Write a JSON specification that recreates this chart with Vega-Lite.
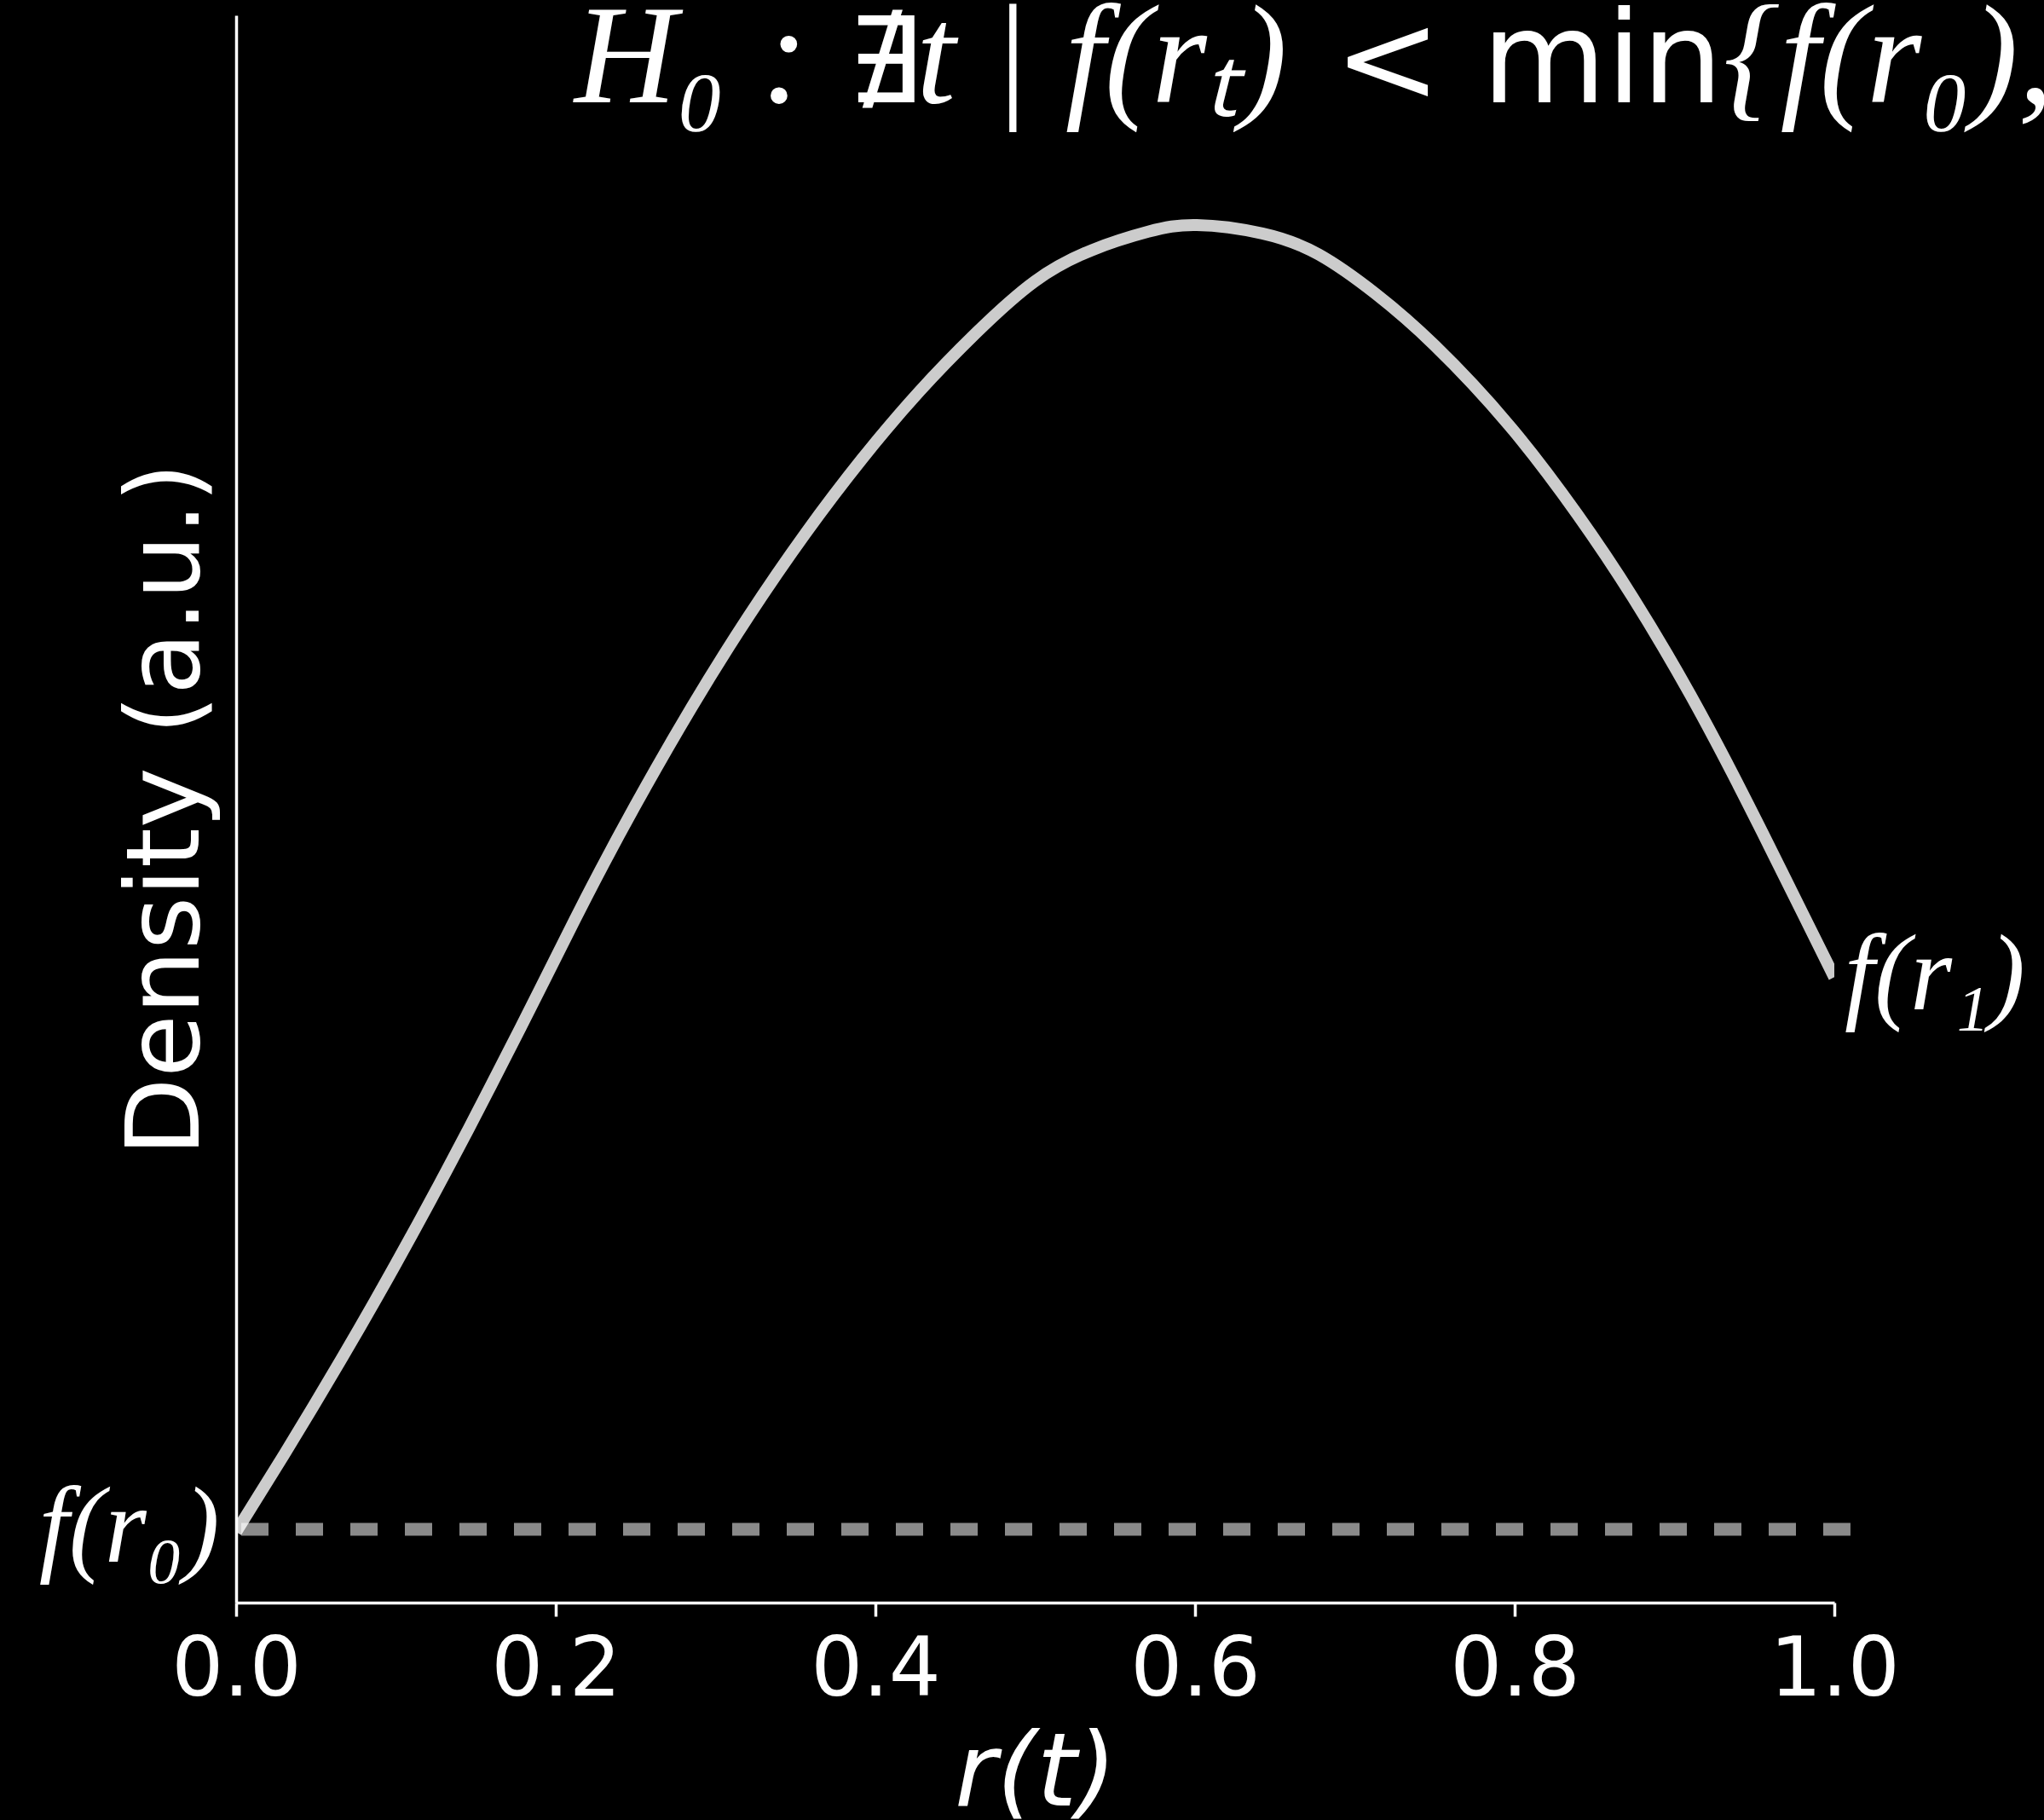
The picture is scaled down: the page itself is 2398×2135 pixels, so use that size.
{
  "$schema": "https://vega.github.io/schema/vega-lite/v6.json",
  "autosize": {"type": "none"},
  "padding": {"left": 277, "top": 18, "right": 246, "bottom": 255},
  "width": 1875,
  "height": 1862,
  "background": "#000000",
  "config": {"view": {"stroke": null}, "axis": {"grid": false}},
  "datasets": {
    "curve": [
      {"r": 0.0, "density": 0.0446},
      {"r": 0.0302, "density": 0.0935},
      {"r": 0.0658, "density": 0.1533},
      {"r": 0.0996, "density": 0.2128},
      {"r": 0.1316, "density": 0.272},
      {"r": 0.16, "density": 0.3268},
      {"r": 0.1902, "density": 0.3866},
      {"r": 0.2187, "density": 0.4436},
      {"r": 0.2496, "density": 0.5019},
      {"r": 0.2853, "density": 0.5645},
      {"r": 0.3205, "density": 0.6212},
      {"r": 0.3563, "density": 0.6737},
      {"r": 0.392, "density": 0.721},
      {"r": 0.4272, "density": 0.7627},
      {"r": 0.4629, "density": 0.7998},
      {"r": 0.4997, "density": 0.8324},
      {"r": 0.5355, "density": 0.8521},
      {"r": 0.5707, "density": 0.8637},
      {"r": 0.6011, "density": 0.8679},
      {"r": 0.6421, "density": 0.8626},
      {"r": 0.6773, "density": 0.8494},
      {"r": 0.7131, "density": 0.8245},
      {"r": 0.7499, "density": 0.7921},
      {"r": 0.7963, "density": 0.742},
      {"r": 0.8389, "density": 0.686},
      {"r": 0.8741, "density": 0.633},
      {"r": 0.9099, "density": 0.572},
      {"r": 0.9456, "density": 0.504},
      {"r": 0.9808, "density": 0.433},
      {"r": 1.0, "density": 0.394}
    ],
    "levels": [
      {"name": "f(r₀)", "density": 0.0462},
      {"name": "f(r₁)", "density": 0.394}
    ]
  },
  "layer": [
    {
      "data": {"name": "curve"},
      "mark": {"type": "line", "color": "#ffffff", "opacity": 0.8, "strokeWidth": 14, "interpolate": "natural", "clip": true},
      "encoding": {
        "x": {
          "field": "r", "type": "quantitative",
          "scale": {"domain": [0, 1], "nice": false, "zero": false},
          "axis": {
            "values": [0, 0.2, 0.4, 0.6, 0.8, 1.0],
            "format": ".1f",
            "labelFlush": false,
            "labelOverlap": false,
            "domainColor": "#ffffff", "domainWidth": 3.5,
            "tickColor": "#ffffff", "tickWidth": 3.5, "tickSize": 16,
            "labelFont": "DejaVu Sans", "labelFontSize": 96, "labelColor": "#ffffff",
            "labelBaseline": "alphabetic", "labelPadding": 92,
            "title": "r(t)",
            "titleFont": "DejaVu Sans", "titleFontStyle": "italic", "titleFontWeight": "normal",
            "titleFontSize": 120, "titleColor": "#ffffff",
            "titleBaseline": "alphabetic", "titleY": 237
          }
        },
        "y": {
          "field": "density", "type": "quantitative",
          "scale": {"domain": [0, 1], "nice": false},
          "axis": {
            "values": [0.0462],
            "labelExpr": "'f(r₀)'",
            "labelLimit": 0,
            "ticks": false,
            "domainColor": "#ffffff", "domainWidth": 3.5,
            "labelFont": "Liberation Serif", "labelFontStyle": "italic", "labelFontSize": 126,
            "labelColor": "#ffffff", "labelPadding": 20, "labelBaseline": "middle",
            "title": "Density (a.u.)",
            "titleFont": "DejaVu Sans", "titleFontWeight": "normal", "titleFontSize": 120,
            "titleColor": "#ffffff", "titleAngle": 270, "titleBaseline": "alphabetic",
            "titleAlign": "center", "titleX": -45, "titleY": 931
          }
        }
      }
    },
    {
      "data": {"name": "levels"},
      "transform": [{"filter": "datum.name === 'f(r₀)'"}],
      "mark": {"type": "rule", "color": "#ffffff", "opacity": 0.54, "strokeWidth": 15, "strokeDash": [32, 32], "strokeDashOffset": 58, "strokeCap": "butt"},
      "encoding": {
        "x": {"datum": 0},
        "x2": {"datum": 1.0101},
        "y": {"field": "density", "type": "quantitative"}
      }
    },
    {
      "data": {"name": "levels"},
      "transform": [{"filter": "datum.name === 'f(r₁)'"}],
      "mark": {"type": "text", "align": "left", "baseline": "middle", "dx": 12, "font": "Liberation Serif", "fontStyle": "italic", "fontSize": 126, "color": "#ffffff"},
      "encoding": {
        "x": {"datum": 1.0},
        "y": {"field": "density", "type": "quantitative"},
        "text": {"field": "name"}
      }
    },
    {
      "data": {"values": [{"part": "H₀ :"}]},
      "mark": {"type": "text", "align": "left", "baseline": "alphabetic", "font": "Liberation Serif", "fontStyle": "italic", "fontSize": 166, "color": "#ffffff"},
      "encoding": {
        "x": {"datum": 0.2117},
        "y": {"datum": 0.9452},
        "text": {"field": "part"}
      }
    },
    {
      "data": {"values": [{"part": "∄"}]},
      "mark": {"type": "text", "align": "left", "baseline": "alphabetic", "font": "DejaVu Sans", "fontSize": 140, "color": "#ffffff"},
      "encoding": {
        "x": {"datum": 0.3819},
        "y": {"datum": 0.9452},
        "text": {"field": "part"}
      }
    },
    {
      "data": {"values": [{"part": "t | f(rₜ)"}]},
      "mark": {"type": "text", "align": "left", "baseline": "alphabetic", "font": "Liberation Serif", "fontStyle": "italic", "fontSize": 166, "color": "#ffffff"},
      "encoding": {
        "x": {"datum": 0.4256},
        "y": {"datum": 0.9452},
        "text": {"field": "part"}
      }
    },
    {
      "data": {"values": [{"part": "< min"}]},
      "mark": {"type": "text", "align": "left", "baseline": "alphabetic", "font": "DejaVu Sans", "fontSize": 150, "color": "#ffffff"},
      "encoding": {
        "x": {"datum": 0.687},
        "y": {"datum": 0.9452},
        "text": {"field": "part"}
      }
    },
    {
      "data": {"values": [{"part": "{f(r₀), f(r₁)}"}]},
      "mark": {"type": "text", "align": "left", "baseline": "alphabetic", "font": "Liberation Serif", "fontStyle": "italic", "fontSize": 166, "color": "#ffffff"},
      "encoding": {
        "x": {"datum": 0.9307},
        "y": {"datum": 0.9452},
        "text": {"field": "part"}
      }
    }
  ]
}
